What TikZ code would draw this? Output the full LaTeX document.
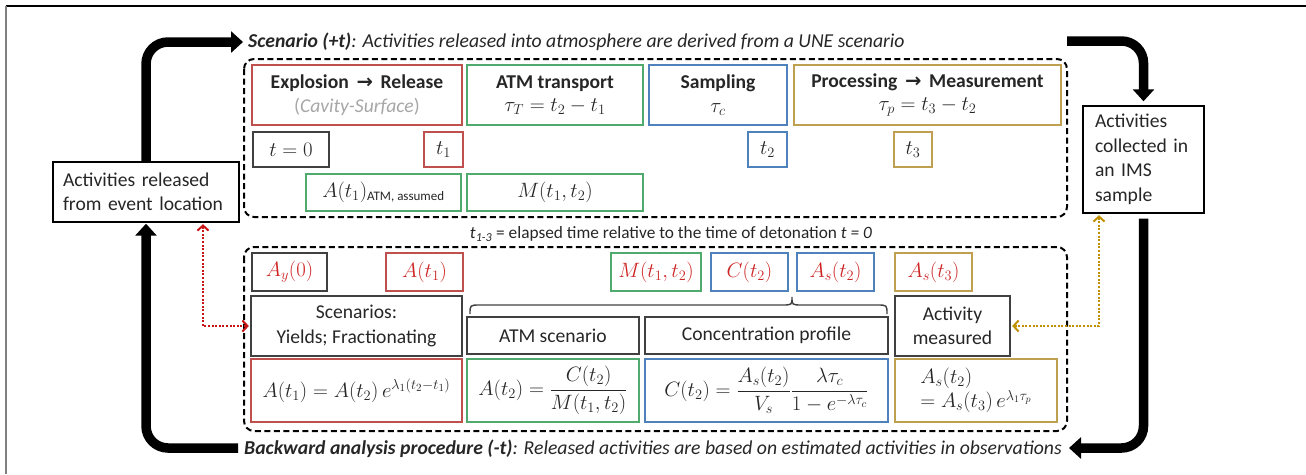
\documentclass[tikz,border=0pt]{standalone}
\usepackage{fontspec}
\setmainfont{Carlito}
\newfontfamily\arrowfont{DejaVu Sans}
\usetikzlibrary{arrows.meta,calc}
\definecolor{bred}{RGB}{192,80,77}
\definecolor{bgreen}{RGB}{80,170,110}
\definecolor{bblue}{RGB}{79,129,189}
\definecolor{bgold}{RGB}{191,160,80}
\definecolor{dk}{RGB}{64,64,64}
\definecolor{txt}{RGB}{38,38,38}
\definecolor{mred}{RGB}{205,35,35}
\definecolor{dred}{RGB}{200,20,20}
\definecolor{dgold}{RGB}{191,144,0}
\definecolor{lgray}{RGB}{166,166,166}
\newcommand{\arr}{{\arrowfont\bfseries\char"2192}}
\begin{document}
\begin{tikzpicture}[x=1pt,y=-1pt,
  every node/.style={font=\fontsize{19.6}{24.5}\selectfont, text=txt},
  box/.style={draw=#1, line width=1.4pt, inner sep=0pt, align=center},
  mbig/.style={font=\fontsize{22}{26}\selectfont},
  dashbox/.style={draw=black, line width=2pt, dash pattern=on 6pt off 3.5pt, rounded corners=10pt},
  bigarrow/.style={line width=9.5pt, rounded corners=22pt, -{Triangle[length=12pt,width=21pt]}},
  reddot/.style={dred, line width=2pt, dash pattern=on 2pt off 1.6pt,
    {Straight Barb[length=5pt,width=11pt]}-{Straight Barb[length=5pt,width=11pt]}},
  golddot/.style={dgold, line width=2pt, dash pattern=on 2pt off 1.6pt,
    {Straight Barb[length=5pt,width=11pt]}-{Straight Barb[length=5pt,width=11pt]}},
  lbl/.style={inner sep=0pt, anchor=west}
]
\useasboundingbox (0,0) rectangle (1306,474);
% partial outer frame
\draw[line width=1.6pt, black] (6,6) -- (1306,6);
\draw[line width=1.6pt, gray] (6,474) -- (6,6);

% dashed groups
\draw[dashbox] (244,59) rectangle (1067,217);
\draw[dashbox] (244,247) rectangle (1067,431);

% top row
\node[box=bred, minimum width=210pt, minimum height=60pt] (exp) at (357,95)
  {\textbf{Explosion\, \arr\, Release}\\[-1pt]\textcolor{lgray}{(\textit{Cavity-Surface})}};
\node[box=bgreen, minimum width=176pt, minimum height=60pt] (atm) at (555,95)
  {\textbf{ATM transport}\\[-1pt]{\fontsize{20}{24}\selectfont$\tau_T = t_2 - t_1$}};
\node[box=bblue, minimum width=138pt, minimum height=60pt] (samp) at (718,95)
  {\textbf{Sampling}\\[-1pt]{\fontsize{20}{24}\selectfont$\tau_c$}};
\node[box=bgold, minimum width=267pt, minimum height=60pt] (proc) at (927.5,95)
  {\textbf{Processing\, \arr\, Measurement}\\[-1pt]{\fontsize{20}{24}\selectfont$\tau_p = t_3 - t_2$}};
\node[box=dk, mbig, minimum width=76pt, minimum height=35pt] (t0) at (291,149.5) {$t = 0$};
\node[box=bred, mbig, minimum width=39pt, minimum height=35pt] (t1) at (443.5,149.5) {$t_1$};
\node[box=bblue, mbig, minimum width=39pt, minimum height=35pt] (t2) at (767.5,149.5) {$t_2$};
\node[box=bgold, mbig, minimum width=38pt, minimum height=35pt] (t3) at (913,149.5) {$t_3$};
\node[box=bgreen, mbig, minimum width=155pt, minimum height=37pt] (aass) at (383.5,192.5)
  {$A(t_1)_{\mbox{\fontsize{13}{13}\selectfont ATM, assumed}}$};
\node[box=bgreen, mbig, minimum width=176pt, minimum height=37pt] (mtop) at (555,192.5) {$M(t_1,t_2)$};

% side boxes
\node[box=black, minimum width=186pt, minimum height=60pt, text width=166pt, inner xsep=10pt, align=left] (lbox) at (146,192)
  {Activities released\\from event location};
\node[box=black, minimum width=121pt, minimum height=107pt, text width=97pt, inner xsep=12pt, align=left] (rbox) at (1143.5,159.5)
  {Activities\\collected in\\an IMS\\sample};

% texts
\node[lbl, font=\fontsize{19.7}{24}\selectfont\itshape] (title) at (248,42)
  {\textbf{Scenario (+t)}: Activities released into atmosphere are derived from a UNE scenario};
\node[font=\fontsize{17.3}{21}\selectfont, inner sep=0pt] (note) at (671,234)
  {\textit{t}\textsubscript{\textit{1-3}} = elapsed time relative to the time of detonation \textit{t = 0}};
\node[lbl, font=\fontsize{19.7}{24}\selectfont\itshape] (btext) at (244,449)
  {\textbf{Backward analysis procedure (-t)}: Released activities are based on estimated activities in observations};

% bottom row 1
\node[box=dk, mbig, minimum width=75pt, minimum height=38pt] (ay0) at (289.5,272) {\color{mred}$A_y(0)$};
\node[box=bred, mbig, minimum width=77pt, minimum height=38pt] (at1) at (424.5,272) {\color{mred}$A(t_1)$};
\node[box=bgreen, mbig, minimum width=90pt, minimum height=38pt] (mb) at (656,272) {\color{mred}$M(t_1,t_2)$};
\node[box=bblue, mbig, minimum width=77pt, minimum height=38pt] (cb) at (749.5,272) {\color{mred}$C(t_2)$};
\node[box=bblue, mbig, minimum width=77pt, minimum height=38pt] (asb) at (835.5,272) {\color{mred}$A_s(t_2)$};
\node[box=bgold, mbig, minimum width=77pt, minimum height=38pt] (as3) at (933.5,272) {\color{mred}$A_s(t_3)$};

% bottom row 2
\node[box=dk, minimum width=211pt, minimum height=60pt] (scen) at (356.5,326) {Scenarios:\\Yields; Fractionating};
\node[box=dk, minimum width=172pt, minimum height=37pt] (atms) at (553,335.5) {ATM scenario};
\node[box=dk, minimum width=243pt, minimum height=37pt] (conc) at (766.5,335.5) {Concentration profile};
\node[box=dk, minimum width=115pt, minimum height=60pt] (actm) at (952.5,326) {Activity\\measured};

% brace
\draw[dk, line width=1.4pt] (470,314) .. controls (470,305) .. (480,305) -- (782,305)
  .. controls (792,305) .. (792,297) .. controls (792,305) .. (802,305) -- (877,305)
  .. controls (887,305) .. (887,314);

% formulas
\node[box=bred, mbig, minimum width=211pt, minimum height=63pt] (f1) at (356.5,390.5)
  {$A(t_1) = A(t_2)\,e^{\lambda_1(t_2-t_1)}$};
\node[box=bgreen, mbig, minimum width=172pt, minimum height=63pt] (f2) at (553,390.5)
  {$\displaystyle A(t_2) = \frac{C(t_2)}{M(t_1,t_2)}$};
\node[box=bblue, minimum width=243pt, minimum height=63pt, font=\fontsize{21}{25}\selectfont] (f3) at (766.5,390.5)
  {$\displaystyle C(t_2) = \frac{A_s(t_2)}{V_s}\frac{\lambda\tau_c}{1-e^{-\lambda\tau_c}}$};
\node[box=bgold, minimum width=162pt, minimum height=63pt, align=left, font=\fontsize{20}{22}\selectfont] (f4) at (976,390.5)
  {$A_s(t_2)$\\$= A_s(t_3)\,e^{\lambda_1\tau_p}$};

% big arrows
\coordinate (trs) at (1067,41);
\coordinate (bre) at (1069,448);
\coordinate (bls) at (238,448);
\draw[bigarrow, shorten >=5pt] (lbox.north) |- (title.west);
\draw[bigarrow, shorten >=4pt] (trs) -| (rbox.north);
\draw[bigarrow, shorten <=5pt] (rbox.south) |- (bre);
\draw[bigarrow, shorten >=1pt] (bls) -| (lbox.south);

% dotted arrows
\draw[reddot, shorten <=1.5pt, shorten >=1.5pt] ($(lbox.south)+(57,0)$) |- (scen.west);
\draw[golddot, shorten <=1.5pt, shorten >=1.5pt] ($(rbox.south)+(-44.5,0)$) |- (actm.east);
\end{tikzpicture}
\end{document}
